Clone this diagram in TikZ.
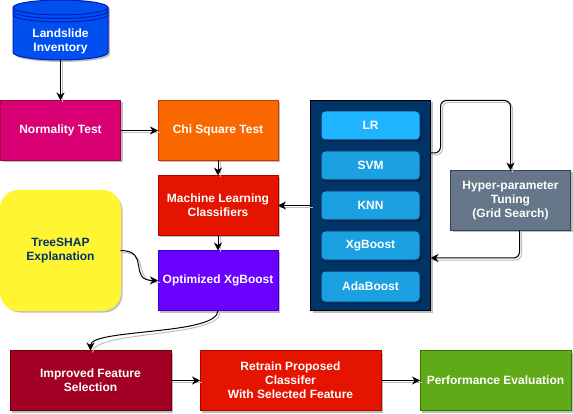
\documentclass[tikz,border=0pt]{standalone}
\usepackage{fontspec}
\setmainfont{Liberation Sans}
\usetikzlibrary{positioning,arrows.meta,calc,shadows}

\definecolor{invfill}{HTML}{0050EF}
\definecolor{invline}{HTML}{001DBC}
\definecolor{normfill}{HTML}{D80073}
\definecolor{normline}{HTML}{A50040}
\definecolor{chifill}{HTML}{FA6800}
\definecolor{chiline}{HTML}{C73500}
\definecolor{redfill}{HTML}{E51400}
\definecolor{redline}{HTML}{B20000}
\definecolor{optfill}{HTML}{6A00FF}
\definecolor{optline}{HTML}{3700CC}
\definecolor{impfill}{HTML}{A20025}
\definecolor{impline}{HTML}{6F0000}
\definecolor{perffill}{HTML}{60A917}
\definecolor{perfline}{HTML}{2D7600}
\definecolor{hypfill}{HTML}{647687}
\definecolor{hypline}{HTML}{314354}
\definecolor{navy}{HTML}{003366}
\definecolor{navyshadow}{HTML}{00264D}
\definecolor{skyfill}{HTML}{1BA1E2}
\definecolor{lrfill}{HTML}{1FB4FF}
\definecolor{shadowgray}{HTML}{BEBEBE}

\tikzset{
  box/.style={draw=#1,line width=1pt,outer sep=0pt,inner sep=1pt,align=center,text=white,
    font=\fontsize{12}{14}\selectfont\bfseries,
    drop shadow={shadow xshift=2pt,shadow yshift=-2pt,fill=shadowgray,opacity=1}},
  model/.style={draw=navy,line width=1pt,outer sep=0pt,inner sep=1pt,align=center,text=white,
    font=\fontsize{12}{14}\selectfont\bfseries,
    drop shadow={shadow xshift=2pt,shadow yshift=-2pt,fill=navyshadow,opacity=1},
    fill=#1,rounded corners=4pt,minimum width=99pt,minimum height=29pt},
  conn/.style={line width=1pt,black,-{Stealth[length=8pt,width=8pt,inset=2.5pt]},
    preaction={draw=shadowgray,line width=1pt,-,transform canvas={shift={(2pt,-2pt)}}}}
}

\begin{document}
\begin{tikzpicture}[x=1pt,y=-1pt]
  \useasboundingbox (0,0) rectangle (573,414);
  % data store
  \node[outer sep=0pt,minimum width=95pt,minimum height=60pt] (inventory) at (60.5,30) {};
  \fill[shadowgray] (15,9.5) arc[start angle=180,end angle=360,x radius=47.5,y radius=7.5] -- (110,54.5)
    arc[start angle=0,end angle=180,x radius=47.5,y radius=7.5] -- cycle;
  \draw[invline,fill=invfill,line width=1pt] (13,7.5) arc[start angle=180,end angle=360,x radius=47.5,y radius=7.5] -- (108,52.5)
    arc[start angle=0,end angle=180,x radius=47.5,y radius=7.5] -- cycle;
  \foreach \y in {7.5,11,14.5}
    \draw[invline,line width=1pt] (13,\y) arc[start angle=180,end angle=0,x radius=47.5,y radius=7.5];
  \node[align=center,text=white,font=\fontsize{12}{14}\selectfont\bfseries] (inventorytext) at (60.5,41) {Landslide\\Inventory};

  \node[box=normline,fill=normfill,minimum width=120pt,minimum height=60pt] (normality) at (60.5,130.5) {Normality Test};
  \node[box=chiline,fill=chifill,minimum width=120pt,minimum height=60pt] (chi) at (218,130.5) {Chi Square Test};
  \node[box=redline,fill=redfill,minimum width=120pt,minimum height=60pt] (ml) at (218,205.5) {Machine Learning\\Classifiers};
  \node[box=optline,fill=optfill,minimum width=120pt,minimum height=60pt] (opt) at (218,280.5) {Optimized XgBoost};
  \node[box=yellow!80!white,fill=yellow!80!white,text=navy,rounded corners=18pt,minimum width=120pt,minimum height=120pt] (shap) at (60.5,250.5) {TreeSHAP\\Explanation};

  \node[box=black,fill=navy,minimum width=120pt,minimum height=210pt] (models) at (370.5,205.5) {};
  \node[model=lrfill] (lr) at (370.5,125.5) {LR};
  \node[model=skyfill] (svm) at (370.5,165.5) {SVM};
  \node[model=skyfill] (knn) at (370.5,205.5) {KNN};
  \node[model=skyfill] (xgb) at (370.5,245.5) {XgBoost};
  \node[model=skyfill,minimum height=31pt] (ada) at (370.5,286.5) {AdaBoost};
  \node[box=hypline,fill=hypfill,minimum width=120pt,minimum height=60pt] (hyper) at (510.5,200.5) {Hyper-parameter\\Tuning\\(Grid Search)};

  \node[box=impline,fill=impfill,minimum width=161pt,minimum height=60pt] (improved) at (90.5,380.5) {Improved Feature\\Selection};
  \node[box=redline,fill=redfill,minimum width=181pt,minimum height=60pt] (retrain) at (290.5,380.5) {Retrain Proposed\\Classifer\\With Selected Feature};
  \node[box=perfline,fill=perffill,minimum width=151pt,minimum height=60pt] (perf) at (495.5,380.5) {Performance Evaluation};

  % connectors
  \draw[conn] (inventory) -- (normality);
  \draw[conn] (normality) -- (chi);
  \draw[conn] (chi) -- (ml);
  \draw[conn] (ml) -- (opt);
  \draw[conn] (models) -- (ml);
  \draw[conn] (improved) -- (retrain);
  \draw[conn] (retrain) -- (perf);
  \draw[conn] (shap.east) to[out=0,in=180,looseness=1.6] (opt.west);
  \draw[conn] (opt.south) .. controls +(0,25) and +(0,-22) .. (improved.north);
  \draw[conn,rounded corners=6pt] ($(models.north east)!0.25!(models.south east)$) -- ++(10,0) |- ++(35,-52.5) -| (hyper.north);
  \draw[conn,rounded corners=6pt] ([xshift=9pt]hyper.south) |- ($(models.north east)!0.75!(models.south east)$);
\end{tikzpicture}
\end{document}
